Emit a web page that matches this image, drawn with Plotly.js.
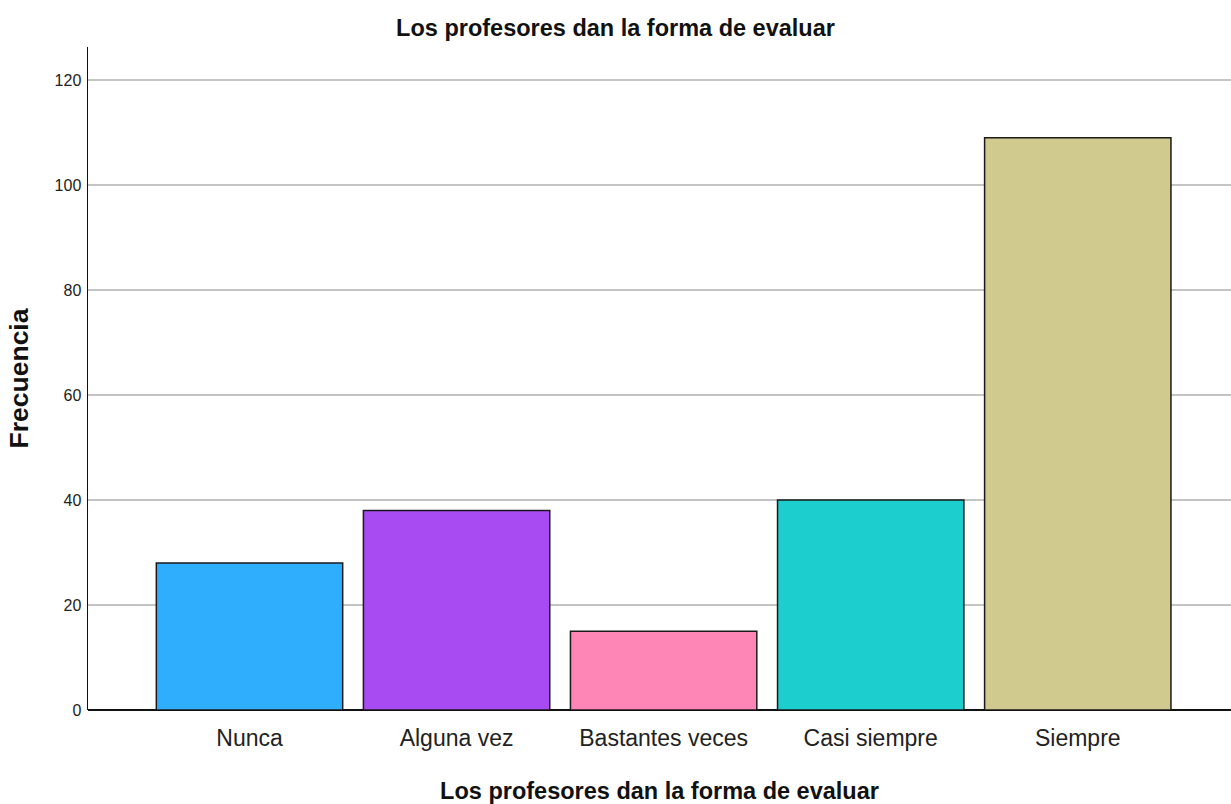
<!DOCTYPE html>
<html>
<head>
<meta charset="utf-8">
<script src="https://cdn.plot.ly/plotly-3.0.1.min.js"></script>
<style>html,body{margin:0;padding:0;background:#fff;}#chart{width:1231px;height:804px;}</style>
</head>
<body>
<div id="chart"></div>
<script>
const categories = ["Nunca", "Alguna vez", "Bastantes veces", "Casi siempre", "Siempre"];
const frecuencia = [28, 38, 15, 40, 109];
const barColors = ["#30aefe", "#a94bf2", "#fe86b7", "#1ccecd", "#d0ca8e"];
const yTicks = [0, 20, 40, 60, 80, 100, 120];

const trace = {
  type: "bar",
  x: categories,
  y: frecuencia,
  width: 0.9,
  marker: {color: barColors, line: {color: "#1a1a1a", width: 1.5}},
  hoverinfo: "x+y"
};

const layout = {
  width: 1231, height: 804,
  margin: {l: 88, r: 0, t: 47, b: 94},
  paper_bgcolor: "#ffffff",
  plot_bgcolor: "#ffffff",
  font: {family: "Liberation Sans, Arial, sans-serif", color: "#222"},
  title: {text: "Los profesores dan la forma de evaluar", font: {size: 23.5, family: "Liberation Sans, Arial, sans-serif", weight: "bold", color: "#111"}, x: 0.5, xanchor: "center", y: 0.965, yanchor: "middle"},
  xaxis: {
    range: [-0.78, 4.74],
    showgrid: false,
    showline: false,
    zeroline: false,
    ticks: "",
    automargin: false,
    tickfont: {size: 23, color: "#222"},
    ticklabelstandoff: 12,
    title: {text: "Los profesores dan la forma de evaluar", font: {size: 23.5, weight: "bold", color: "#111"}, standoff: 33}
  },
  yaxis: {
    range: [0, 126.3],
    tickvals: yTicks,
    ticktext: yTicks.map(String),
    showgrid: true,
    gridcolor: "#c4c4c4",
    gridwidth: 1.3,
    showline: true,
    linecolor: "#111",
    linewidth: 1.5,
    zeroline: true,
    zerolinecolor: "#111",
    zerolinewidth: 1.5,
    ticks: "",
    automargin: false,
    ticklabelstandoff: 2,
    tickfont: {size: 16, color: "#222"},
    title: {text: "Frecuencia", font: {size: 26.5, weight: "bold", color: "#111"}, standoff: 18}
  },
  showlegend: false,
  bargap: 0.1
};

Plotly.newPlot("chart", [trace], layout, {displayModeBar: false, staticPlot: true});
</script>
</body>
</html>
